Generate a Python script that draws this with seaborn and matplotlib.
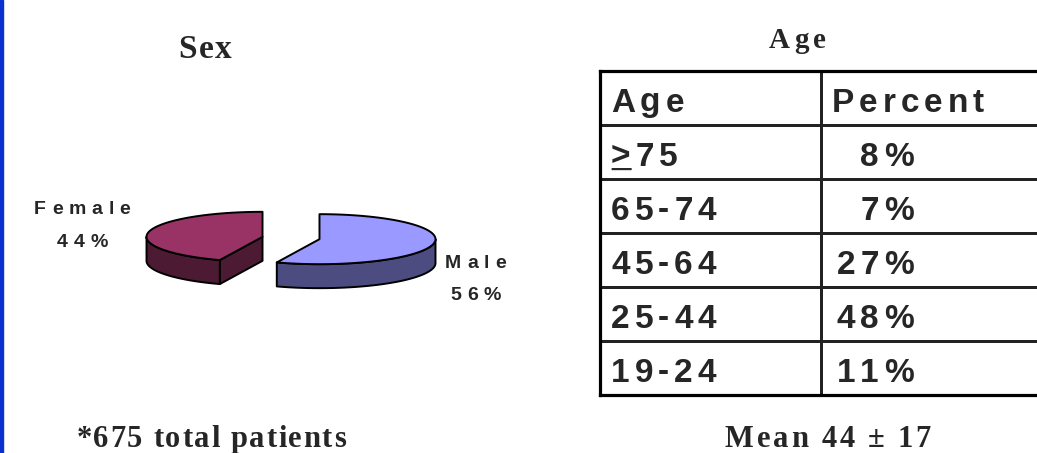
import matplotlib
matplotlib.use("Agg")
import matplotlib.pyplot as plt
import numpy as np
import seaborn as sns
from matplotlib.colors import ListedColormap
from matplotlib.font_manager import FontProperties, findfont, get_font

# ---- data ----
sex_labels = ["Female", "Male"]
sex_pct = [44, 56]
top_colors = ["#993366", "#9999FF"]
side_colors = ["#4D1A33", "#4C4C80"]

table_header = ["Age", "Percent"]
age_groups = [">75", "65-74", "45-64", "25-44", "19-24"]
age_pct = [8, 7, 27, 48, 11]

total_patients = 675
age_mean, age_sd = 44, 17

sns.set_style("white")

W, H = 1037, 453
fig = plt.figure(figsize=(W / 100, H / 100), dpi=100)


def tracked(ax, x, y, s, size, track, ha="left", family="Liberation Sans",
            weight="bold", xycoords="data", dy=0.0, **kw):
    """Draw text char by char with extra letter spacing (track, in points)."""
    fp = FontProperties(family=family, weight=weight, size=size)
    font = get_font(findfont(fp))
    font.set_size(size, 72)
    adv = [font.load_char(ord(c)).linearHoriAdvance / 65536 for c in s]
    total = sum(adv) + track * (len(s) - 1)
    x0 = {"left": 0.0, "center": -total / 2, "right": -total}[ha]
    for c, a in zip(s, adv):
        if c != " ":
            ax.annotate(c, (x, y), xycoords=xycoords, xytext=(x0, dy),
                        textcoords="offset points", fontproperties=fp,
                        ha="left", va="baseline", annotation_clip=False, **kw)
        x0 += a + track


# ---- 3D exploded pie (Sex) ----
# pie axes: 1 x-unit = 116 px, 1 y-unit = 25 px, centre at (291, 238) px
px0, px1, py0, py1 = 20, 540, 180, 320
cxp, cyp, rx, ry = 291, 238, 116, 25
ax_pie = fig.add_axes([px0 / W, (H - py1) / H, (px1 - px0) / W, (py1 - py0) / H])
ax_pie.set_xlim((px0 - cxp) / rx, (px1 - cxp) / rx)
ax_pie.set_ylim((cyp - py1) / ry, (cyp - py0) / ry)
ax_pie.set_axis_off()

depth = 24 / ry
explode = 0.25
edge = dict(edgecolor="black", linewidth=1.4, joinstyle="round")

bounds = 90 + 360 * np.concatenate([[0], np.cumsum(sex_pct)]) / np.sum(sex_pct)
for i in range(len(sex_pct)):
    a, b = bounds[i], bounds[i + 1]
    mid = np.deg2rad((a + b) / 2)
    cx, cy = explode * np.cos(mid), explode * np.sin(mid)

    # visible cut faces
    for ang, normal in [(a, a - 90), (b, b + 90)]:
        if np.sin(np.deg2rad(normal)) < -1e-6:
            t = np.deg2rad(ang)
            rxp, ryp = cx + np.cos(t), cy + np.sin(t)
            ax_pie.fill([cx, rxp, rxp, cx], [cy, ryp, ryp - depth, cy - depth],
                        facecolor=side_colors[i], **edge)

    # front part of the outer wall
    lo, hi = max(a, 180), min(b, 360)
    if hi > lo:
        t = np.deg2rad(np.linspace(lo, hi, 100))
        xs = cx + np.cos(t)
        ys = cy + np.sin(t)
        ax_pie.fill(np.r_[xs, xs[::-1]], np.r_[ys, ys[::-1] - depth],
                    facecolor=side_colors[i], **edge)

    # top face
    t = np.deg2rad(np.linspace(a, b, 200))
    ax_pie.fill(np.r_[cx, cx + np.cos(t)], np.r_[cy, cy + np.sin(t)],
                facecolor=top_colors[i], **edge)

label_pos = [(-1.80, 0.96), (1.59, -1.18)]
for lab, pct, (lx, ly) in zip(sex_labels, sex_pct, label_pos):
    tracked(ax_pie, lx, ly, lab, 14, 4.2, ha="center")
    tracked(ax_pie, lx, ly - 33 / ry, f"{pct}%", 14, 4.2, ha="center")

# ---- Age table ----
tl, tr, tt, tb = 600, 1041.4, 71, 395
ax_tab = fig.add_axes([tl / W, (H - tb) / H, (tr - tl) / W, (tb - tt) / H])
grid = np.zeros((len(age_groups) + 1, 2))
sns.heatmap(grid, ax=ax_tab, cmap=ListedColormap(["white"]), cbar=False,
            linewidths=0.9, linecolor="#222222",
            xticklabels=False, yticklabels=False)
for s in ax_tab.spines.values():
    s.set_visible(True)
    s.set_linewidth(2.3)
    s.set_color("black")

tracked(ax_tab, 0.05, 0.75, table_header[0], 24, 3.6)
tracked(ax_tab, 1.05, 0.75, table_header[1], 24, 3.6)
for i, (grp, pct) in enumerate(zip(age_groups, age_pct)):
    row = i + 1.75
    tracked(ax_tab, 0.05, row, grp, 24, 3.6)
    if grp.startswith(">"):
        # old-style "greater or equal": underlined ">"
        for off in (0.0, -1.2):
            tracked(ax_tab, 0.05, row, "_", 25, 0, dy=off)
    tracked(ax_tab, 1.42, row, f"{pct}%", 24, 3.6, ha="right")

# ---- titles and footnotes (figure pixel coordinates) ----
ax_txt = fig.add_axes([0, 0, 1, 1])
ax_txt.set_axis_off()
serif = dict(family="Liberation Serif", xycoords="figure pixels")
tracked(ax_txt, 205, H - 58, "Sex", 24, 1.0, ha="center", **serif)
tracked(ax_txt, 797, H - 48, "Age", 21, 3.0, ha="center", **serif)
tracked(ax_txt, 211, H - 447, f"*{total_patients} total patients", 22, 1.2,
        ha="center", **serif)
tracked(ax_txt, 828, H - 447, f"Mean {age_mean} \u00b1 {age_sd}", 22, 2.0,
        ha="center", **serif)

# blue slide edge on the left
fig.add_artist(plt.Rectangle((0, 0), 2.5 / W, 1, transform=fig.transFigure,
                             color="#0A30D0"))

fig.savefig("out.png", dpi=100)
